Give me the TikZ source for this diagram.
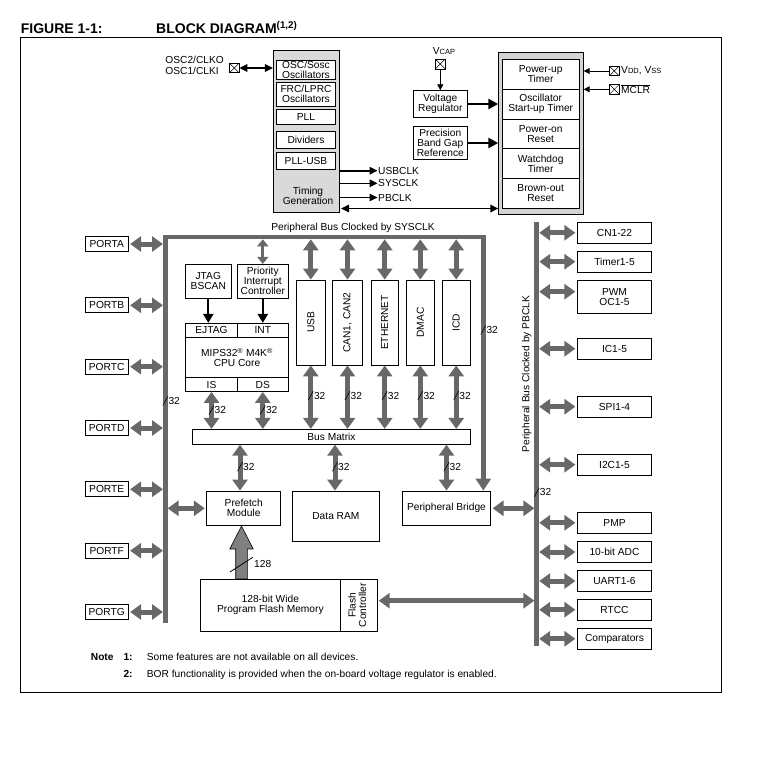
\documentclass[tikz,border=0pt]{standalone}
\usepackage{fontspec}
\setmainfont{Liberation Sans}
\usepackage{graphicx}
\usetikzlibrary{arrows.meta, calc, positioning}

\definecolor{busgray}{RGB}{104,104,104}
\definecolor{clkfill}{RGB}{217,217,217}
\definecolor{pwrfill}{RGB}{212,212,212}
\definecolor{fatgray}{RGB}{128,128,128}

\tikzset{
  blk/.style={draw, line width=0.8pt, fill=white, inner sep=0pt, align=center},
  pinbox/.style={draw, line width=0.7pt, minimum size=9.5pt, inner sep=0pt,
    path picture={\draw[line width=0.5pt]
      (path picture bounding box.north west) -- (path picture bounding box.south east)
      (path picture bounding box.south west) -- (path picture bounding box.north east);}},
  bus/.style={line width=4.5pt, draw=busgray},
  gbus/.style={line width=5pt, color=busgray,
    arrows={Triangle[length=11pt,width=15pt]-Triangle[length=11pt,width=15pt]}},
  gsmall/.style={line width=3pt, color=busgray,
    arrows={Triangle[length=7pt,width=11pt]-Triangle[length=7pt,width=11pt]}},
  sigarrow/.style={line width=1.6pt, arrows={-Triangle[length=8pt,width=7.5pt]}},
  sigboth/.style={line width=1.6pt,
    arrows={Triangle[length=8pt,width=7.5pt]-Triangle[length=8pt,width=7.5pt]}},
  thinarrow/.style={line width=0.8pt, arrows={-Triangle[length=6pt,width=6pt]}},
  pwrarrow/.style={line width=2.6pt, arrows={-Triangle[length=10pt,width=10pt]}},
  cpuarrow/.style={line width=2.2pt, arrows={-Triangle[length=9pt,width=10pt]}},
  buswidth/.pic={
    \draw[line width=0.6pt] (-2.5,4.5) -- (2.5,-4.5);
    \node[anchor=west, inner sep=0pt] (-lbl) at (3,0) {#1};
  }
}

\begin{document}
\begin{tikzpicture}[x=1pt, y=-1pt, font=\fontsize{10.2}{10}\selectfont]
\useasboundingbox (0,0) rectangle (759,760);

% --- title and frame ---
\node[anchor=base west, inner sep=0pt, font=\fontsize{14}{16}\selectfont\bfseries] (figno) at (20.7,33.3) {FIGURE 1-1:};
\node[anchor=base west, inner sep=0pt, font=\fontsize{14}{16}\selectfont\bfseries] (figttl) at (156,33.3) {BLOCK DIAGRAM\textsuperscript{(1,2)}};
\draw[line width=1pt] (20.7,37.3) rectangle (721.7,692);

% --- clock generation ---
\node[draw, line width=0.8pt, fill=clkfill, minimum width=66pt, minimum height=161.3pt, inner sep=0pt] (clk) at (306.3,131.3) {};
\foreach \nm/\cy/\h/\txt in {osc/70/18.5/{OSC/Sosc\\Oscillators}, frc/94.3/23.3/{FRC/LPRC\\Oscillators},
    pll/116.7/14.7/PLL, div/139.7/17.3/Dividers, pllusb/160.7/17.3/PLL-USB} {
  \node[blk, minimum width=59pt, minimum height=\h pt] (\nm) at (306,\cy) {\txt};
}
\node[align=center, inner sep=0pt] (timing) at (308,196) {Timing\\Generation};

% oscillator pins
\node[pinbox] (oscpin) at (234.3,68) {};
\node[anchor=east, align=left, inner sep=0pt, font=\fontsize{10.2}{11.3}\selectfont] (osclbl) at (224,65.7) {OSC2/CLKO\\OSC1/CLKI};
\draw[sigboth] (oscpin.east) -- (oscpin.east -| clk.west);

% clock outputs
\foreach \nm/\cy/\txt in {usbclk/170.7/USBCLK, sysclk/183.3/SYSCLK, pbclk/197.5/PBCLK} {
  \node[anchor=west, inner sep=0.5pt] (\nm) at (377.5,\cy) {\txt};
  \draw[sigarrow] (\nm.west -| clk.east) -- (\nm.west);
}

% --- reset / power block ---
\node[draw, line width=0.8pt, fill=pwrfill, minimum width=84.6pt, minimum height=161.7pt, inner sep=0pt] (pwr) at (541,133.2) {};
\foreach \i/\txt in {0/{Power-up\\Timer}, 1/{Oscillator\\Start-up Timer}, 2/{Power-on\\Reset},
    3/{Watchdog\\Timer}, 4/{Brown-out\\Reset}} {
  \node[blk, minimum width=76.7pt, minimum height=29.8pt] (pwr\i) at (540.7,{74.2+29.8*\i}) {\txt};
}
\coordinate (tgbus) at (341,208.5);
\draw[sigboth] (tgbus) -- (tgbus -| pwr.west);

% voltage regulator and band gap
\node[pinbox, minimum size=10pt] (vcappin) at (440.3,64) {};
\node[anchor=base, inner sep=0pt] (vcaplbl) at (444,54.5) {V{\fontsize{7.5}{8}\selectfont CAP}};
\node[blk, minimum width=54pt, minimum height=26.6pt] (vreg) at (440.3,104) {Voltage\\Regulator};
\node[blk, minimum width=54pt, minimum height=32.6pt] (bandgap) at (440.3,143) {Precision\\Band Gap\\Reference};
\draw[thinarrow] (vcappin.south) -- (vreg.north);
\draw[pwrarrow] (vreg.east) -- (vreg.east -| pwr.west);
\draw[pwrarrow] (bandgap.east) -- (bandgap.east -| pwr.west);

% supply and reset pins
\node[pinbox] (vddpin) at (614.3,71) {};
\node[anchor=west, inner sep=0pt] (vddlbl) at (621,71) {V{\fontsize{7.5}{8}\selectfont DD}, V{\fontsize{7.5}{8}\selectfont SS}};
\node[pinbox] (mclrpin) at (614.3,89.3) {};
\node[anchor=west, inner sep=0pt] (mclrlbl) at (621,89.3) {$\overline{\mbox{MCLR}}$};
\draw[thinarrow] (vddpin.west) -- (vddpin.west -| pwr.east);
\draw[thinarrow] (mclrpin.west) -- (mclrpin.west -| pwr.east);

% --- CPU ---
\node[blk, minimum width=46.7pt, minimum height=34pt] (jtag) at (208.3,281.3) {JTAG\\BSCAN};
\node[blk, minimum width=51pt, minimum height=34pt] (intc) at (262.8,281.3) {Priority\\Interrupt\\Controller};
\node[blk, minimum width=51.6pt, minimum height=14pt] (ejtag) at (211.5,330.3) {EJTAG};
\node[blk, minimum width=51pt, minimum height=14pt] (int) at (262.8,330.3) {INT};
\node[blk, minimum width=102.6pt, minimum height=40.4pt] (core) at (237,357.5) {MIPS32\textsuperscript{\textregistered} M4K\textsuperscript{\textregistered}\\CPU Core};
\node[blk, minimum width=51.6pt, minimum height=13.8pt] (is) at (211.5,384.6) {IS};
\node[blk, minimum width=51pt, minimum height=13.8pt] (ds) at (262.8,384.6) {DS};
\draw[cpuarrow] (jtag.south) -- (jtag.south |- ejtag.north);
\draw[cpuarrow] (intc.south) -- (intc.south |- int.north);

% --- bus matrix and memories ---
\node[blk, minimum width=278.4pt, minimum height=15pt] (busmat) at (331.5,436.8) {Bus Matrix};
\node[blk, minimum width=74pt, minimum height=34.7pt] (prefetch) at (243.7,508.3) {Prefetch\\Module};
\node[blk, minimum width=86.8pt, minimum height=50pt] (dataram) at (335.9,516) {Data RAM};
\node[blk, minimum width=88.4pt, minimum height=34.7pt] (bridge) at (446.5,508.3) {Peripheral Bridge};
\node[blk, minimum width=139.3pt, minimum height=51.7pt] (flashmem) at (270.35,605.2) {128-bit Wide\\Program Flash Memory};
\node[blk, minimum width=37.3pt, minimum height=51.7pt] (flashctl) at (358.65,605.2) {\rotatebox{90}{\begin{tabular}{@{}c@{}}Flash\\Controller\end{tabular}}};

% --- peripheral bus clocked by SYSCLK ---
\node (sysbuslbl) at (353,227.5) {Peripheral Bus Clocked by SYSCLK};
\coordinate (sysL) at (165.3,237);
\coordinate (sysR) at (483.3,237);
\coordinate (sysLend) at (165.3,623);
\coordinate (sysLo) at (163,237);
\coordinate (sysLi) at (167.6,237);
\coordinate (sysLb) at (165.3,239.3);
\draw[bus, arrows={-Triangle[length=12pt,width=15pt]}] (sysLend) -- (sysL) -- (sysR) -- (sysR |- bridge.north);
\pic (wsysL) at (165.3,401) {buswidth=32};
\pic (wsysR) at (483.3,330) {buswidth=32};
\draw[gsmall] (intc.north |- sysLb) -- (intc.north);

% masters on the bus
\foreach \nm/\cx/\w/\txt in {usb/310.8/29.7/USB, can/347.5/30.4/{CAN1, CAN2}, eth/384.7/27.3/ETHERNET,
    dmac/420.3/27.3/DMAC, icd/456.2/27.7/ICD} {
  \node[blk, minimum width=\w pt, minimum height=85pt] (\nm) at (\cx,322.5) {\rotatebox{90}{\txt}};
  \draw[gbus] (\nm.north |- sysLb) -- (\nm.north);
  \draw[gbus] (\nm.south) -- (\nm.south |- busmat.north);
  \pic (w\nm) at (\cx,395.5) {buswidth=32};
}
\draw[gbus] (is.south) -- (is.south |- busmat.north);
\draw[gbus] (ds.south) -- (ds.south |- busmat.north);
\pic (wis) at (211.5,410) {buswidth=32};
\pic (wds) at (262.8,410) {buswidth=32};

\coordinate (pfin) at ([xshift=-3.7pt]prefetch.north);
\coordinate (ramin) at ([xshift=-0.9pt]dataram.north);
\draw[gbus] (pfin |- busmat.south) -- (pfin);
\draw[gbus] (ramin |- busmat.south) -- (ramin);
\draw[gbus] (bridge.north |- busmat.south) -- (bridge.north);
\pic (wpf) at (240,466.7) {buswidth=32};
\pic (wram) at (335,466.7) {buswidth=32};
\pic (wbr) at (446.5,466.7) {buswidth=32};

% ports on the left
\foreach \nm/\cy in {A/244, B/305.3, C/366.7, D/428, E/489.3, F/550.7, G/612} {
  \node[blk, minimum width=43pt, minimum height=15pt] (port\nm) at (106.7,\cy) {PORT\nm};
  \draw[gbus] ([xshift=1.5pt]port\nm.east) -- (port\nm.east -| sysLo);
}
\draw[gbus] (prefetch.west -| sysLi) -- ([xshift=-1.5pt]prefetch.west);

% flash to prefetch, 128 bits wide
\coordinate (fatT) at ([xshift=-2.2pt]prefetch.south);
\coordinate (fatB) at (fatT |- flashmem.north);
\filldraw[fill=fatgray, line width=0.6pt] ($(fatB)+(-5.8,0)$) -- ($(fatB)+(5.8,0)$) -- ($(fatB)+(5.8,-30)$)
  -- ($(fatB)+(11.7,-30)$) -- (fatT) -- ($(fatB)+(-11.7,-30)$) -- ($(fatB)+(-5.8,-30)$) -- cycle;
\draw[line width=0.8pt] ($(fatB)+(-11.5,-7)$) -- ($(fatB)+(11.2,-21.6)$);
\node[anchor=west, inner sep=0pt] (w128) at ($(fatB)+(12.5,-15)$) {128};

% --- peripheral bus clocked by PBCLK ---
\coordinate (pbT) at (536.7,221.7);
\coordinate (pbB) at (536.7,646);
\coordinate (pbR) at (539.2,0);
\coordinate (pbL) at (534.4,0);
\draw[bus] (pbT) -- (pbB);
\node[rotate=90] (pbbuslbl) at (526.7,374) {Peripheral Bus Clocked by PBCLK};
\pic (wpb) at (536.7,492.3) {buswidth=32};
\foreach \nm/\cy/\h/\dy/\txt in {cn/232.8/21/0/CN1-22, tmr/261.7/21/0/Timer1-5, pwm/296.7/33.3/5/{PWM\\OC1-5},
    ic/348.7/21/0/IC1-5, spi/406.7/21/0/SPI1-4, iic/464.7/21/0/I2C1-5, pmp/522.8/21/0/PMP,
    adc/552/21/0/10-bit ADC, uart/581/21/0/UART1-6, rtcc/609.7/21/0/RTCC, cmp/638.8/21/0/Comparators} {
  \node[blk, minimum width=74.4pt, minimum height=\h pt] (\nm) at (614.5,\cy) {\txt};
  \coordinate (\nm in) at ([xshift=-1.5pt,yshift=\dy pt]\nm.west);
  \draw[gbus] (pbR |- \nm in) -- (\nm in);
}
\draw[gbus] ([xshift=1.5pt]bridge.east) -- (bridge.east -| pbL);
\coordinate (fcA) at ([xshift=1pt,yshift=4.5pt]flashctl.east);
\draw[gbus] (fcA) -- (fcA -| pbL);

% --- notes ---
\node[anchor=base west, inner sep=0pt, font=\fontsize{10.2}{10}\selectfont\bfseries] (note) at (90.7,660.3) {Note};
\node[anchor=base west, inner sep=0pt, font=\fontsize{10.2}{10}\selectfont\bfseries] (n1) at (123.3,660.3) {1:};
\node[anchor=base west, inner sep=0pt] (n1t) at (146.7,660.3) {Some features are not available on all devices.};
\node[anchor=base west, inner sep=0pt, font=\fontsize{10.2}{10}\selectfont\bfseries] (n2) at (123.3,677) {2:};
\node[anchor=base west, inner sep=0pt] (n2t) at (146.7,677) {BOR functionality is provided when the on-board voltage regulator is enabled.};

\end{tikzpicture}
\end{document}
